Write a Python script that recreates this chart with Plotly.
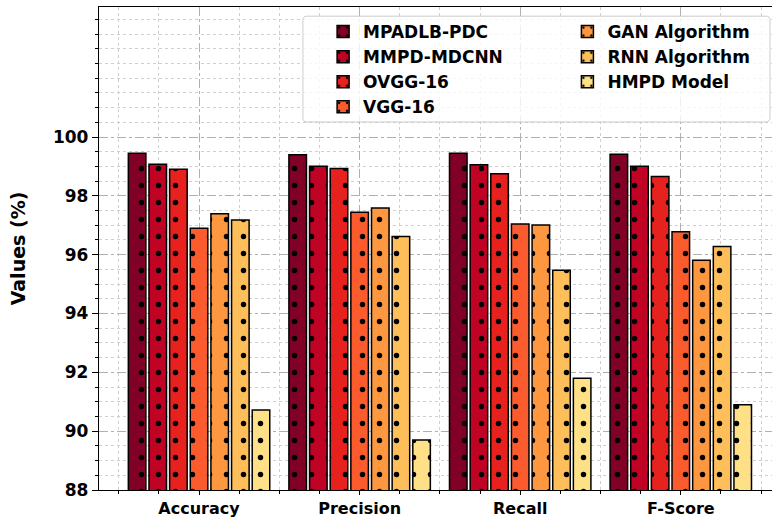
import plotly.graph_objects as go

categories = ["Accuracy", "Precision", "Recall", "F-Score"]
series_names = ["MPADLB-PDC", "MMPD-MDCNN", "OVGG-16", "VGG-16",
                "GAN Algorithm", "RNN Algorithm", "HMPD Model"]
mpadlb_pdc = [99.45, 99.40, 99.45, 99.41]
mmpd_mdcnn = [99.07, 99.01, 99.06, 99.01]
ovgg_16 = [98.90, 98.93, 98.75, 98.66]
vgg_16 = [96.90, 97.44, 97.04, 96.78]
gan_alg = [97.39, 97.59, 97.01, 95.81]
rnn_alg = [97.18, 96.62, 95.47, 96.28]
hmpd_model = [90.72, 89.70, 91.80, 90.90]
y_ticks = [88, 90, 92, 94, 96, 98, 100]

series_values = [mpadlb_pdc, mmpd_mdcnn, ovgg_16, vgg_16, gan_alg, rnn_alg, hmpd_model]
colors = ["#800026", "#c00225", "#e6211e", "#fc5b2e", "#fd9740", "#febf5a", "#fee187"]
x_pos = list(range(len(categories)))

FONT = "DejaVu Sans"
fig = go.Figure()
for i, (name, vals, col) in enumerate(zip(series_names, series_values, colors)):
    fig.add_trace(go.Bar(
        x=x_pos, y=vals, name=name,
        legend="legend" if i < 4 else "legend2",
        marker=dict(
            color=col,
            line=dict(color="black", width=1.5),
            pattern=dict(shape=".", size=17, solidity=0.08,
                         fgcolor="black", bgcolor=col, fgopacity=1),
        ),
    ))

# legend frame (rounded)
x0, x1, y0, y1 = 0.303, 0.997, 0.762, 0.981
rx, ry = 0.006, 0.0083
path = (f"M {x0+rx},{y1} L {x1-rx},{y1} Q {x1},{y1} {x1},{y1-ry} "
        f"L {x1},{y0+ry} Q {x1},{y0} {x1-rx},{y0} L {x0+rx},{y0} "
        f"Q {x0},{y0} {x0},{y0+ry} L {x0},{y1-ry} Q {x0},{y1} {x0+rx},{y1} Z")

legend_common = dict(
    xanchor="left", yanchor="top", bgcolor="rgba(0,0,0,0)", borderwidth=0,
    font=dict(family=FONT, size=17, color="black", weight="bold"),
    tracegroupgap=0, itemwidth=30,
)

fig.update_layout(
    width=772, height=518,
    margin=dict(l=99, r=0, t=7, b=28),
    paper_bgcolor="white", plot_bgcolor="white",
    barmode="group", bargap=0.1, bargroupgap=0.15,
    font=dict(family=FONT, color="black"),
    legend=dict(x=0.333, y=0.9855, **legend_common),
    legend2=dict(x=0.696, y=0.9855, **legend_common),
    shapes=[dict(type="path", path=path, xref="paper", yref="paper",
                 fillcolor="rgba(255,255,255,0.8)", line=dict(color="#cccccc", width=1),
                 layer="above")],
    xaxis=dict(
        range=[-0.623, 3.568], tickmode="array", tickvals=x_pos, ticktext=categories,
        tickfont=dict(family=FONT, size=16, color="black", weight="bold"),
        ticks="outside", ticklen=4, tickwidth=1.2, tickcolor="black",
        showline=True, linecolor="black", linewidth=1.3, mirror=True,
        showgrid=True, gridcolor="#b0b0b0", griddash="dashdot", gridwidth=1,
        zeroline=False, automargin=False,
        minor=dict(tickmode="linear", tick0=0, dtick=0.25, ticks="outside", ticklen=3,
                   tickcolor="black", showgrid=True, gridcolor="#cfcfcf",
                   griddash="dot", gridwidth=1),
    ),
    yaxis=dict(
        range=[88, 104.42], tickmode="array", tickvals=y_ticks,
        ticktext=[str(v) for v in y_ticks],
        tickfont=dict(family=FONT, size=17, color="black", weight="bold"),
        ticks="outside", ticklen=6, tickwidth=1.2, tickcolor="black",
        showline=True, linecolor="black", linewidth=1.3, mirror=False,
        showgrid=True, gridcolor="#b0b0b0", griddash="dashdot", gridwidth=1,
        zeroline=False, automargin=False,
        title=dict(text="Values (%)", font=dict(family=FONT, size=19, color="black", weight="bold"),
                   standoff=22),
        minor=dict(tickmode="linear", tick0=88, dtick=0.5, ticks="outside", ticklen=3,
                   tickcolor="black", showgrid=True, gridcolor="#cfcfcf",
                   griddash="dot", gridwidth=1),
    ),
)

fig.write_html("out.html",
               config={"displayModeBar": False},
               post_script="document.body.style.margin='0';document.body.style.overflow='hidden';")
